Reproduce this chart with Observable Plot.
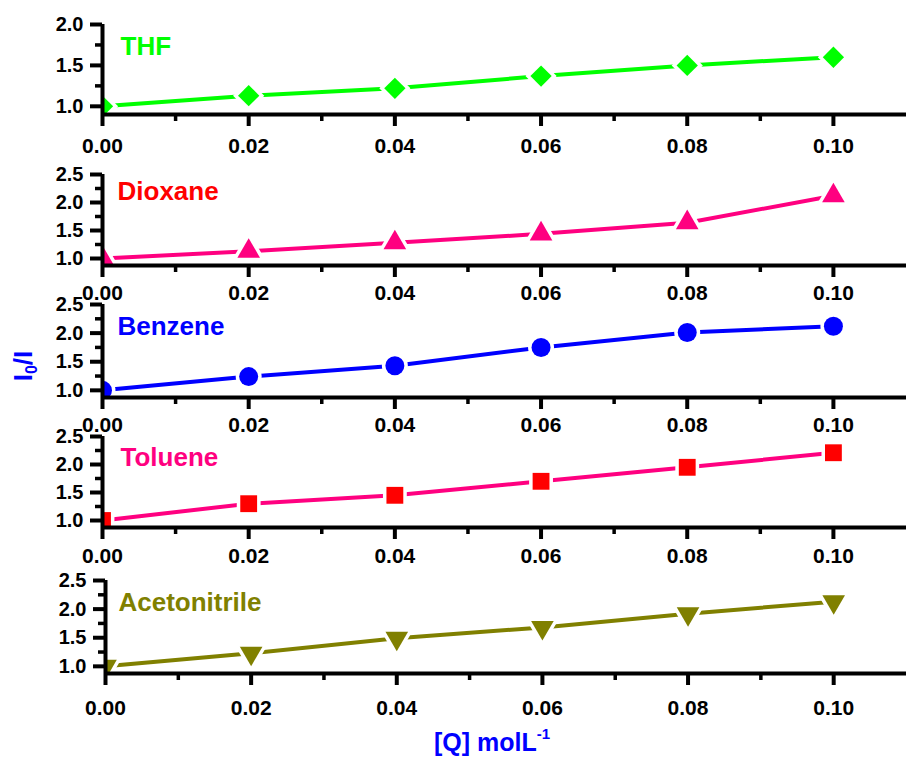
<!DOCTYPE html>
<html><head><meta charset="utf-8">
<script src="https://cdn.jsdelivr.net/npm/d3@7"></script>
<script src="https://cdn.jsdelivr.net/npm/@observablehq/plot@0.6"></script>
<style>
body{margin:0;background:#fff;}
#chart{position:relative;width:906px;height:757px;overflow:hidden;font-family:"Liberation Sans",Arial,sans-serif;font-weight:bold;background:#fff;}
#chart svg{position:absolute;left:0;}
.lbl{position:absolute;color:#0000ff;font-weight:bold;white-space:nowrap;line-height:1;}
.lbl sub{font-size:0.62em;vertical-align:-0.3em;line-height:0;}
.lbl sup{font-size:0.6em;vertical-align:0.75em;line-height:0;}
</style></head><body><div id="chart"></div>
<script>
// ---- data ----
const conc = [0, 0.02, 0.04, 0.06, 0.08, 0.10];
const solvents = ["THF", "Dioxane", "Benzene", "Toluene", "Acetonitrile"];
const thf          = [1.00, 1.13, 1.22, 1.37, 1.50, 1.60];
const dioxane      = [1.00, 1.13, 1.28, 1.44, 1.64, 2.12];
const benzene      = [1.00, 1.24, 1.43, 1.75, 2.01, 2.12];
const toluene      = [1.00, 1.30, 1.45, 1.70, 1.95, 2.21];
const acetonitrile = [1.00, 1.23, 1.49, 1.68, 1.92, 2.13];
const xTicks = [0, 0.02, 0.04, 0.06, 0.08, 0.10];
const xMinor = [0.01, 0.03, 0.05, 0.07, 0.09];
const yTicksTHF = [1.0, 1.5, 2.0];
const yMinorTHF = [1.25, 1.75];
const yTicks = [1.0, 1.5, 2.0, 2.5];
const yMinor = [1.25, 1.75, 2.25];
const yTitle = ["I", "0", "/I"];
const xTitle = ["[Q] molL", "-1"];

// ---- styles ----
const triDown = {
  draw(ctx, size) {
    const y = Math.sqrt(size / (Math.sqrt(3) * 3));
    ctx.moveTo(0, 2 * y);
    ctx.lineTo(Math.sqrt(3) * y, -y);
    ctx.lineTo(-Math.sqrt(3) * y, -y);
    ctx.closePath();
  }
};
const FONT = '"Liberation Sans", Arial, sans-serif';
const panels = [
  {values: thf, yDomain: [0.9, 2.0], yt: yTicksTHF, ym: yMinorTHF, top: 24, bot: 114, left: 102, off: 24,
   text: "#00ff00", line: "#00ff00", mark: "#00ff00", symbol: "diamond2", r: 9.6, dx: 18, dy: 12},
  {values: dioxane, yDomain: [0.875, 2.5], yt: yTicks, ym: yMinor, top: 174, bot: 265, left: 102, off: 20,
   text: "#ff0000", line: "#ff0080", mark: "#ff0080", symbol: "triangle", r: 8.4, dx: 15, dy: 7},
  {values: benzene, yDomain: [0.875, 2.5], yt: yTicks, ym: yMinor, top: 304, bot: 397, left: 102, off: 20,
   text: "#0000ff", line: "#0000ff", mark: "#0000ff", symbol: "circle", r: 9.5, dx: 15, dy: 12},
  {values: toluene, yDomain: [0.875, 2.5], yt: yTicks, ym: yMinor, top: 436, bot: 527, left: 102, off: 21,
   text: "#ff0080", line: "#ff0080", mark: "#ff0000", symbol: "square", r: 9.5, dx: 18, dy: 11},
  {values: acetonitrile, yDomain: [0.875, 2.5], yt: yTicks, ym: yMinor, top: 580, bot: 673, left: 105, off: 27,
   text: "#808000", line: "#808000", mark: "#808000", symbol: triDown, r: 8.4, dx: 13, dy: 12}
];

const chart = document.getElementById("chart");
const mt = 12, mb = 60;
panels.forEach((p, i) => {
  const data = conc.map((c, j) => ({c, v: p.values[j]}));
  const svg = Plot.plot({
    width: 906,
    height: (p.bot - p.top) + mt + mb,
    marginTop: mt, marginBottom: mb, marginLeft: p.left, marginRight: 0,
    x: {domain: [0, 0.11], label: null},
    y: {domain: p.yDomain, label: null},
    style: {background: "transparent", overflow: "visible", fontFamily: FONT, fontWeight: "bold", fontSize: "20px", color: "black"},
    marks: [
      Plot.line(data, {x: "c", y: "v", stroke: p.line, strokeWidth: 4, clip: true}),
      Plot.dot(data, {x: "c", y: "v", symbol: p.symbol, r: p.r, fill: p.mark, stroke: "white", strokeWidth: 7, paintOrder: "stroke", clip: true}),
      Plot.ruleY([p.yDomain[0]], {x1: 0, x2: 0.11, stroke: "black", strokeWidth: 4}),
      Plot.ruleX([0], {y1: p.yDomain[0], y2: p.yDomain[1], stroke: "black", strokeWidth: 4}),
      Plot.axisX(xTicks, {tickSize: 12, tickPadding: p.off - 12, tickFormat: d3.format(".2f"), strokeWidth: 4, fontSize: 21, fontWeight: "bold", label: null}),
      Plot.axisX(xMinor, {tickSize: 7, tickFormat: () => "", strokeWidth: 3.5, label: null}),
      Plot.axisY(p.yt, {tickSize: 12, tickPadding: 7, tickFormat: d3.format(".1f"), strokeWidth: 4, fontSize: 20, fontWeight: "bold", label: null}),
      Plot.axisY(p.ym, {tickSize: 7, tickFormat: () => "", strokeWidth: 3.5, label: null}),
      Plot.text([solvents[i]], {text: d => d, frameAnchor: "top-left", dx: p.dx, dy: p.dy, lineAnchor: "top", textAnchor: "start", fill: p.text, fontSize: 26, fontWeight: "bold"})
    ]
  });
  svg.style.top = (p.top - mt) + "px";
  chart.appendChild(svg);
});

const yl = document.createElement("div");
yl.className = "lbl";
yl.style.cssText = "left:23px;top:366px;font-size:26px;transform:translate(-50%,-50%) rotate(-90deg);";
yl.innerHTML = `${yTitle[0]}<sub>${yTitle[1]}</sub>${yTitle[2]}`;
chart.appendChild(yl);

const xl = document.createElement("div");
xl.className = "lbl";
xl.style.cssText = "left:492px;top:742px;font-size:25px;transform:translate(-50%,-50%);";
xl.innerHTML = `${xTitle[0]}<sup>${xTitle[1]}</sup>`;
chart.appendChild(xl);
</script></body></html>
